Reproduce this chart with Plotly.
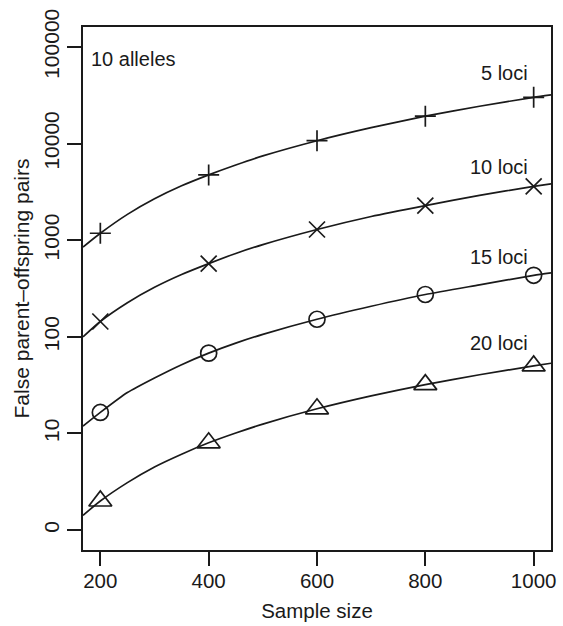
import plotly.graph_objects as go

# Data
sample_size = [200, 400, 600, 800, 1000]
pairs_5_loci = [1180, 4740, 10700, 19200, 30100]
pairs_10_loci = [144, 572, 1290, 2280, 3600]
pairs_15_loci = [16.5, 67.8, 152, 274, 433]
pairs_20_loci = [2.0, 8.0, 18.0, 32.0, 50.0]

# Fitted curves (incl. the plot edges)
curve_x = [168, 200, 250, 300, 350, 400, 450, 500, 600, 700, 800, 900, 1000, 1032]
curve_5_loci = [849, 1180, 1850, 2680, 3650, 4740, 6000, 7450, 10700, 14600,
                19200, 24300, 30100, 31900]
curve_10_loci = [100, 144, 225, 325, 441, 572, 729, 900, 1290, 1760, 2280,
                 2910, 3600, 3830]
curve_15_loci = [11.9, 16.5, 26.5, 37.5, 51.5, 67.8, 86, 106, 152, 207, 274,
                 345, 433, 460]
curve_20_loci = [1.42, 2.0, 3.1, 4.5, 6.1, 8.0, 10.1, 12.5, 18.0, 24.5, 32.0,
                 40.5, 50.0, 53.3]

series_labels = ["5 loci", "10 loci", "15 loci", "20 loci"]
panel_label = "10 alleles"

x_ticks = [200, 400, 600, 800, 1000]
y_tickvals = [1, 10, 100, 1000, 10000, 100000]
y_ticktext = ["0", "10", "100", "1000", "10000", "100000"]

INK = "#1a1a1a"
FONT = "Liberation Sans, Arial, Helvetica, sans-serif"

fig = go.Figure()

points = [pairs_5_loci, pairs_10_loci, pairs_15_loci, pairs_20_loci]
curves = [curve_5_loci, curve_10_loci, curve_15_loci, curve_20_loci]
symbols = ["cross-thin-open", "x-thin-open", "circle-open", "triangle-up-open"]
sizes = [15, 16, 16, 20]

for cy in curves:
    fig.add_trace(go.Scatter(
        x=curve_x, y=cy, mode="lines",
        line=dict(color=INK, width=1.7, shape="spline", smoothing=0.6),
        showlegend=False, hoverinfo="skip"))

for py, sym, sz in zip(points, symbols, sizes):
    fig.add_trace(go.Scatter(
        x=sample_size, y=py, mode="markers",
        marker=dict(symbol=sym, size=sz, color=INK,
                    line=dict(color=INK, width=1.7)),
        showlegend=False))

# series labels (log10 positions for the y axis)
label_pos = [(993, 4.733), (993, 3.755), (993, 2.829), (993, 1.934)]
for txt, (lx, ly) in zip(series_labels, label_pos):
    fig.add_annotation(x=lx, y=ly, text=txt, showarrow=False,
                       xanchor="right", yanchor="middle",
                       font=dict(family=FONT, size=20, color=INK))
fig.add_annotation(x=178.6, y=4.877, text=panel_label, showarrow=False,
                   xanchor="left", yanchor="middle",
                   font=dict(family=FONT, size=20, color=INK))

fig.update_layout(
    width=563, height=626,
    margin=dict(l=83, r=7, t=27, b=73),
    paper_bgcolor="white", plot_bgcolor="white",
    font=dict(family=FONT, color=INK),
    xaxis=dict(
        range=[168, 1032], tickvals=x_ticks, ticks="outside", ticklen=14,
        tickwidth=1.7, tickcolor=INK, showline=True, linecolor=INK,
        linewidth=1.7, mirror=True, showgrid=False, zeroline=False,
        ticklabelstandoff=-2,
        tickfont=dict(family=FONT, size=20.5, color=INK),
        title=dict(text="Sample size", font=dict(family=FONT, size=20.5, color=INK),
                   standoff=12)),
    yaxis=dict(
        type="log", range=[-0.206, 5.206], tickvals=y_tickvals,
        ticktext=y_ticktext, ticks="outside", ticklen=14, tickwidth=1.7,
        tickcolor=INK, showline=True, linecolor=INK, linewidth=1.7,
        mirror=True, showgrid=False, zeroline=False, tickangle=-90,
        tickfont=dict(family=FONT, size=21, color=INK),
        title=dict(text="False parent\u2013offspring pairs",
                   font=dict(family=FONT, size=21, color=INK), standoff=4)),
)

fig.write_html("out.html")
